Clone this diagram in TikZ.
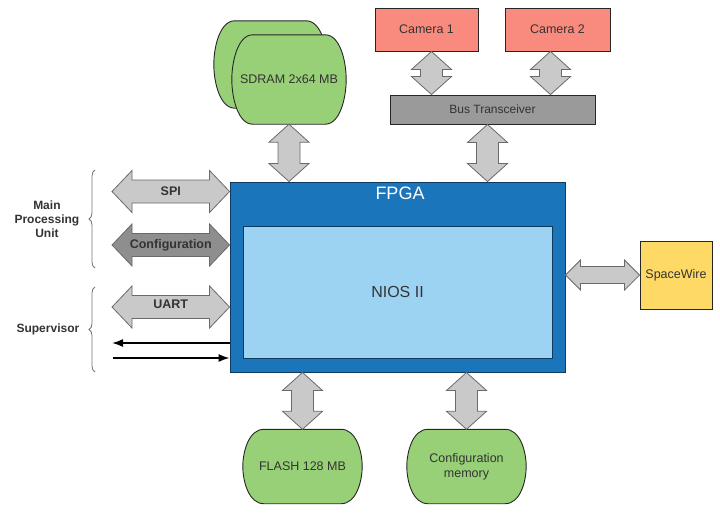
\documentclass[tikz,border=0pt]{standalone}
\usepackage{fontspec}
\setmainfont{Liberation Sans}
\usetikzlibrary{positioning,calc,backgrounds,decorations.pathreplacing,arrows.meta}

\definecolor{fpgablue}{HTML}{1B75BB}
\definecolor{fpgaedge}{HTML}{0E3A5E}
\definecolor{niosblue}{HTML}{9DD3F2}
\definecolor{memgreen}{HTML}{97D077}
\definecolor{camred}{HTML}{F98B7E}
\definecolor{swyellow}{HTML}{FFD966}
\definecolor{busgray}{HTML}{9A9A9A}
\definecolor{arrowgray}{HTML}{C9C9C9}
\definecolor{cfggray}{HTML}{8E8E8E}
\definecolor{edgegray}{HTML}{6A6A6A}
\definecolor{textdark}{HTML}{333333}

\tikzset{
  box/.style={draw=black!85, line width=0.9pt, text=textdark, inner sep=2pt,
    font=\fontsize{12.5}{15}\selectfont},
  storage/.style={text=textdark, inner sep=2pt, font=\fontsize{12.5}{15}\selectfont,
    minimum width=119pt, minimum height=74pt},
  memline/.style={fill=memgreen, draw=black!85, line width=0.9pt},
  armlabel/.style={text=textdark, font=\bfseries\fontsize{12.5}{15}\selectfont},
  sidelabel/.style={text=textdark, align=center, font=\bfseries\fontsize{12}{14}\selectfont},
  brace/.style={decorate, decoration={brace, amplitude=6pt}, draw=black!55, line width=0.8pt},
}

% sizes of the fat arrows
\newcommand{\fhl}{18pt}
\newcommand{\fhw}{20pt}
\newcommand{\fsw}{11pt}
\newcommand{\fatarrow}[3][arrowgray]{%
  \draw[fill=#1, draw=edgegray, line width=0.8pt, line join=miter]
    (#2) -- ($(#2)!\fhl!(#3)!\fhw!90:(#3)$) -- ($(#2)!\fhl!(#3)!\fsw!90:(#3)$)
    -- ($(#3)!\fhl!(#2)!\fsw!-90:(#2)$) -- ($(#3)!\fhl!(#2)!\fhw!-90:(#2)$)
    -- (#3) -- ($(#3)!\fhl!(#2)!\fhw!90:(#2)$) -- ($(#3)!\fhl!(#2)!\fsw!90:(#2)$)
    -- ($(#2)!\fhl!(#3)!\fsw!-90:(#3)$) -- ($(#2)!\fhl!(#3)!\fhw!-90:(#3)$) -- cycle;%
}
% green memory body round a node
\newcommand{\memshape}[1]{%
  \draw[memline] ([xshift=21pt]#1.north west) -- ([xshift=-21pt]#1.north east)
    .. controls ([xshift=-6pt]#1.north east) and ($(#1.north east)!0.3!(#1.south east)$) .. (#1.east)
    .. controls ($(#1.north east)!0.7!(#1.south east)$) and ([xshift=-6pt]#1.south east) .. ([xshift=-21pt]#1.south east)
    -- ([xshift=21pt]#1.south west)
    .. controls ([xshift=6pt]#1.south west) and ($(#1.north west)!0.7!(#1.south west)$) .. (#1.west)
    .. controls ($(#1.north west)!0.3!(#1.south west)$) and ([xshift=6pt]#1.north west) .. cycle;%
}

\begin{document}
\begin{tikzpicture}[x=1pt, y=-1pt]
    \useasboundingbox (0,0) rectangle (720,515);

    % FPGA and NIOS
    \node[box, fill=fpgablue, draw=fpgaedge, minimum width=335pt, minimum height=190pt] (fpga) at (397.5,277) {};
    \node[text=white, font=\fontsize{18}{20}\selectfont] (fpgalbl) at (400,193) {FPGA};
    \node[box, fill=niosblue, draw=fpgaedge, minimum width=309pt, minimum height=132pt,
      font=\fontsize{16}{18}\selectfont] (nios) at (397.5,292) {NIOS II};

    % memories
    \node[storage, minimum width=113pt, minimum height=87pt] (sdramback) at (270.5,64.5) {};
    \node[storage, minimum width=114pt, minimum height=89pt] (sdram) at (289,79.5) {SDRAM 2x64 MB};
    \node[storage] (flash) at (302.5,466.5) {FLASH 128 MB};
    \node[storage, align=center] (cfgmem) at (466.5,466.5) {Configuration\\memory};
    \begin{scope}[on background layer]
        \memshape{sdramback}
        \memshape{sdram}
        \memshape{flash}
        \memshape{cfgmem}
    \end{scope}

    % cameras and bus
    \begin{scope}[every node/.style={box, minimum height=43pt}]
        \node[fill=camred, minimum width=103pt] (cam1) at (426.5,29.5) {Camera 1};
        \node[fill=camred, minimum width=105pt] (cam2) at (557.5,29.5) {Camera 2};
        \node[fill=busgray, minimum width=205pt, minimum height=29pt,
          font=\fontsize{12}{14}\selectfont] (bus) at (492.5,109.5) {Bus Transceiver};
        \node[fill=swyellow, minimum width=72pt, minimum height=68pt] (spw) at (676,275) {SpaceWire};
    \end{scope}

    % end points
    \coordinate (cam1S) at ([xshift=5pt]cam1.south);
    \coordinate (cam2S) at ([xshift=-7pt]cam2.south);
    \coordinate (busS) at ([xshift=-5pt]bus.south);
    \coordinate (spiL) at (112,191.5);
    \coordinate (cfgL) at (112,245);
    \coordinate (uartL) at (112,307);
    \coordinate (txL) at (112,343);
    \coordinate (rxL) at (113,358);

    \fatarrow{sdram.south}{sdram.south |- fpga.north}
    \fatarrow{cam1S}{cam1S |- bus.north}
    \fatarrow{cam2S}{cam2S |- bus.north}
    \fatarrow{busS}{busS |- fpga.north}
    \fatarrow{fpga.south -| flash.north}{flash.north}
    \fatarrow{fpga.south -| cfgmem.north}{cfgmem.north}
    {\renewcommand{\fhw}{21pt}\renewcommand{\fsw}{11.5pt}\renewcommand{\fhl}{20pt}
     \fatarrow{spiL}{spiL -| fpga.west}
     \fatarrow[cfggray]{cfgL}{cfgL -| fpga.west}
     \fatarrow{uartL}{uartL -| fpga.west}}
    {\renewcommand{\fhl}{15pt}\renewcommand{\fhw}{15pt}\renewcommand{\fsw}{8.5pt}
     \fatarrow{spw.west -| fpga.east}{spw.west}}

    \node[armlabel] (spilbl) at ($(spiL)!0.5!(spiL -| fpga.west)$) {SPI};
    \node[armlabel] (cfglbl) at ($(cfgL)!0.5!(cfgL -| fpga.west)$) {Configuration};
    \node[armlabel] (uartlbl) at ($(uartL)!0.5!(uartL -| fpga.west) + (0,-3)$) {UART};

    % supervisor lines
    \begin{scope}[every path/.style={-{Latex[length=11pt,width=8pt]}, line width=1.6pt}]
        \path (txL -| fpga.west) edge (txL);
        \path (rxL) edge (rxL -| fpga.west);
    \end{scope}

    % braces
    \coordinate (mpuTop) at (95,170);
    \coordinate (mpuBot) at (95,268);
    \coordinate (supTop) at (95,287);
    \coordinate (supBot) at (95,372);
    \draw[brace] (mpuBot) -- (mpuTop) node[midway, left=12pt, sidelabel] (mpulbl) {Main\\Processing\\Unit};
    \draw[brace] (supBot) -- (supTop) node[midway, left=12pt, sidelabel] (suplbl) {Supervisor};

\end{tikzpicture}
\end{document}
